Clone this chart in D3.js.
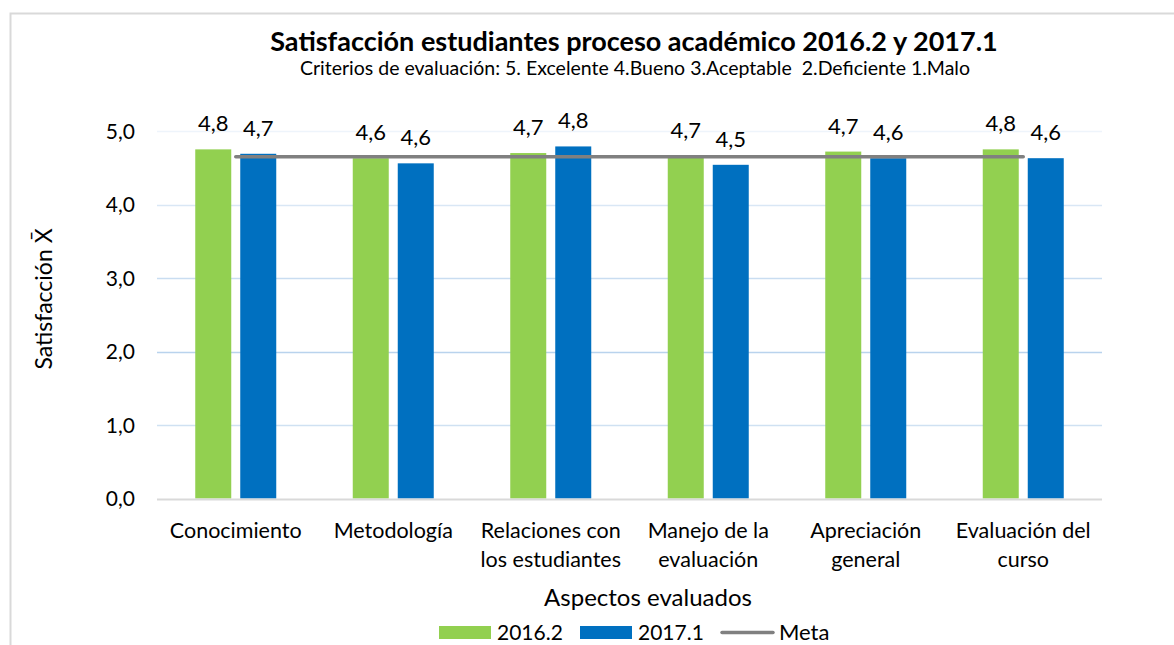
<!DOCTYPE html>
<html><head><meta charset="utf-8">
<script src="https://cdn.jsdelivr.net/npm/d3@7"></script>
<style>body{margin:0;background:#fff;} svg{display:block;} text{font-family:Lato,"Open Sans",sans-serif;fill:#000;}</style>
</head><body>
<svg id="chart" width="1174" height="645"></svg>
<script>
const categories = [["Conocimiento"],["Metodología"],["Relaciones con","los estudiantes"],["Manejo de la","evaluación"],["Apreciación","general"],["Evaluación del","curso"]];
const series2016 = [4.75, 4.63, 4.70, 4.66, 4.72, 4.75];
const series2017 = [4.69, 4.56, 4.79, 4.54, 4.63, 4.63];
const meta = 4.65;
const seriesNames = ["2016.2","2017.1","Meta"];
const yTicks = [0,1,2,3,4,5];
const title = "Satisfacción estudiantes proceso académico 2016.2 y 2017.1";
const subtitle = "Criterios de evaluación: 5. Excelente 4.Bueno 3.Aceptable  2.Deficiente 1.Malo";
const xTitle = "Aspectos evaluados";
const yTitle = "Satisfacción X\u0304";

const svg = d3.select("#chart");
const colors = {g:"#92D050", b:"#0070C0", m:"#808080"};
// border
svg.append("path").attr("d","M10.5,645 V13.5 H1174").attr("fill","none").attr("stroke","#d9d9d9").attr("stroke-width",2);

const x0 = 157, x1 = 1102, yTop = 131, yBot = 498.5;
const x = d3.scaleBand().domain(d3.range(categories.length)).range([x0,x1]).paddingInner(0).paddingOuter(0);
const y = d3.scaleLinear().domain([0,5]).range([yBot,yTop]);
const inner = d3.scaleBand().domain([0,1]).range([0,x.bandwidth()]).paddingInner(0.2).paddingOuter(0.85);

const gridColors = {5:"#eef4fb",4:"#d9e7f5",3:"#c9ddf1",2:"#b9d3ed",1:"#cfe1f2"};
svg.append("g").selectAll("line").data(yTicks.filter(d=>d>0)).join("line")
  .attr("x1",x0).attr("x2",x1).attr("y1",d=>Math.round(y(d))+0.5).attr("y2",d=>Math.round(y(d))+0.5)
  .attr("stroke",d=>gridColors[d]).attr("stroke-width",1.5);

// y tick labels
svg.append("g").selectAll("text").data(yTicks).join("text")
  .attr("x",135).attr("y",d=>y(d)).attr("dy","0.36em").attr("text-anchor","end")
  .style("font-size","21px").attr("fill","#000")
  .text(d=>d3.format(".1f")(d).replace(".",","));

const data = categories.map((c,i)=>({i, vals:[series2016[i], series2017[i]]}));
const g = svg.append("g");
data.forEach(d=>{
  d.vals.forEach((v,k)=>{
    g.append("rect").attr("x",x(d.i)+inner(k)).attr("width",inner.bandwidth())
     .attr("y",y(v)).attr("height",yBot-y(v)).attr("fill",k===0?colors.g:colors.b);
    g.append("text").attr("x",x(d.i)+inner(k)+inner.bandwidth()/2).attr("y",y(v)-18)
     .attr("text-anchor","middle").style("font-size","22px")
     .text(d3.format(".1f")(v).replace(".",","));
  });
});
// baseline
svg.append("line").attr("x1",x0).attr("x2",x1).attr("y1",yBot+1).attr("y2",yBot+1).attr("stroke","#d9d9d9").attr("stroke-width",2);

// meta line
const line = d3.line().x(d=>x(d)+x.bandwidth()/2).y(()=>y(meta));
svg.append("path").datum(d3.range(categories.length)).attr("d",line)
  .attr("fill","none").attr("stroke",colors.m).attr("stroke-width",3.5).attr("stroke-linecap","round");

// category labels
categories.forEach((lines,i)=>{
  lines.forEach((t,j)=>{
    svg.append("text").attr("x",x(i)+x.bandwidth()/2).attr("y",538+j*29)
      .attr("text-anchor","middle").style("font-size","21.5px").text(t);
  });
});

// titles
svg.append("text").attr("x",634).attr("y",51).attr("text-anchor","middle")
  .style("font-size","27px").style("font-weight","bold").text(title);
svg.append("text").attr("x",635).attr("y",75).attr("text-anchor","middle")
  .style("font-size","19.5px").attr("xml:space","preserve").style("white-space","pre").text(subtitle);
svg.append("text").attr("x",648).attr("y",606).attr("text-anchor","middle")
  .style("font-size","24px").text(xTitle);
svg.append("text").attr("transform","translate(52,299) rotate(-90)").attr("text-anchor","middle")
  .style("font-size","23px").text(yTitle);

// legend
const lg = svg.append("g");
lg.append("rect").attr("x",439).attr("y",626).attr("width",52).attr("height",13).attr("fill",colors.g);
lg.append("text").attr("x",497).attr("y",640).style("font-size","21px").text(seriesNames[0]);
lg.append("rect").attr("x",580).attr("y",626).attr("width",52).attr("height",13).attr("fill",colors.b);
lg.append("text").attr("x",638).attr("y",640).style("font-size","21px").text(seriesNames[1]);
lg.append("line").attr("x1",722).attr("x2",773).attr("y1",632.5).attr("y2",632.5).attr("stroke",colors.m).attr("stroke-width",3.5).attr("stroke-linecap","round");
lg.append("text").attr("x",779).attr("y",640).style("font-size","22px").text(seriesNames[2]);
</script>
</body></html>
